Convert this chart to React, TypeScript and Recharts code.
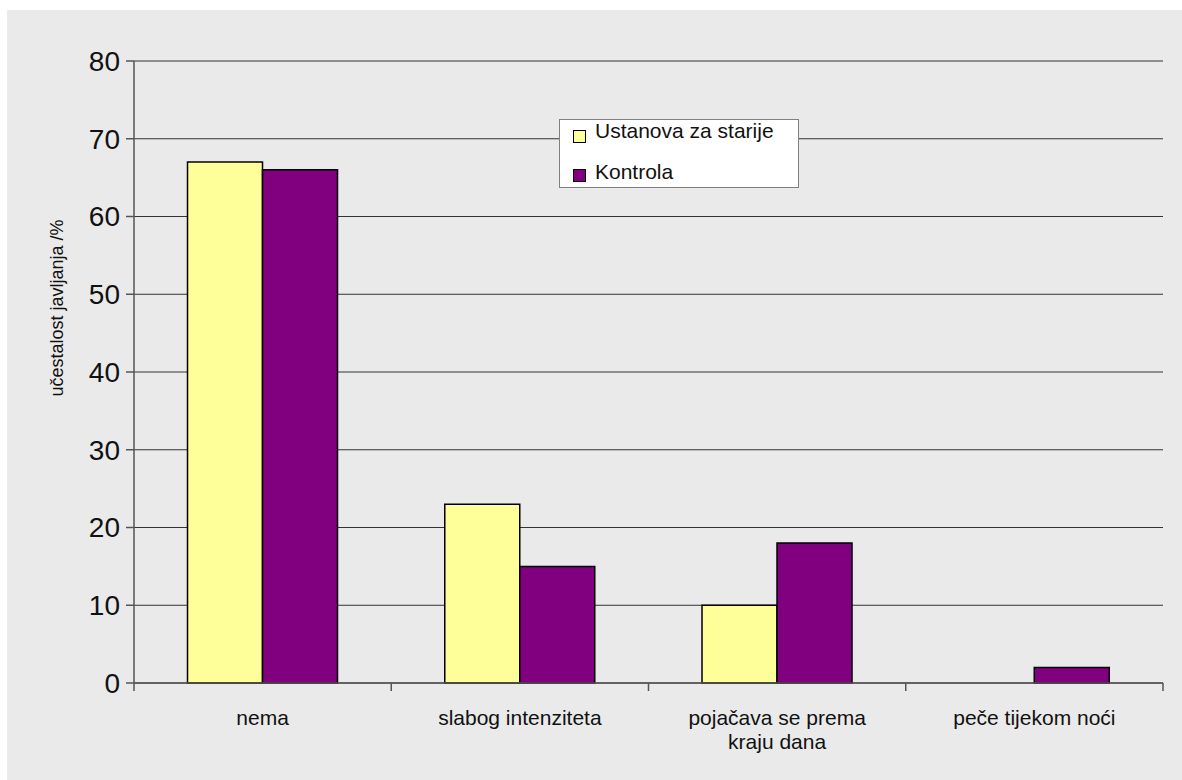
import { BarChart, Bar, XAxis, YAxis, CartesianGrid, Legend } from 'recharts';

const CATEGORIES = ['nema', 'slabog intenziteta', 'pojačava se prema\nkraju dana', 'peče tijekom noći'];
const USTANOVA = [67, 23, 10, 0];
const KONTROLA = [66, 15, 18, 2];
const Y_TICKS = [0, 10, 20, 30, 40, 50, 60, 70, 80];

const SERIES = [
  { key: 'ustanova', name: 'Ustanova za starije', color: '#FFFF99' },
  { key: 'kontrola', name: 'Kontrola', color: '#800080' },
];

const data = CATEGORIES.map((c, i) => ({ name: c, ustanova: USTANOVA[i], kontrola: KONTROLA[i] }));

const FONT = '"Liberation Sans", Arial, sans-serif';
const W = 1175;
const H = 770;
const MARGIN = { top: 51, right: 19, left: 0, bottom: 37 };
const Y_WIDTH = 127;
const PLOT_W = W - MARGIN.left - MARGIN.right - Y_WIDTH;

const CategoryTick = (props: any) => {
  const { x, y, payload, index } = props;
  const half = payload?.offset ?? PLOT_W / CATEGORIES.length / 2;
  const axisY = y - 8;
  const lines = String(payload.value).split('\n');
  return (
    <g>
      <line x1={x - half} x2={x - half} y1={axisY} y2={axisY + 8} stroke="#555" strokeWidth={1.5} />
      {index === CATEGORIES.length - 1 && (
        <line x1={x + half} x2={x + half} y1={axisY} y2={axisY + 8} stroke="#555" strokeWidth={1.5} />
      )}
      <text x={x} y={axisY + 42} textAnchor="middle" fontSize={21} fontFamily={FONT} fill="#111">
        {lines.map((l, i) => (
          <tspan key={i} x={x} dy={i === 0 ? 0 : 24}>
            {l}
          </tspan>
        ))}
      </text>
    </g>
  );
};

const LegendBox = () => (
  <svg width={240} height={69} style={{ display: 'block', overflow: 'visible' }}>
    <rect x={0.5} y={0.5} width={239} height={68} fill="#fff" stroke="#808080" strokeWidth={1} />
    {SERIES.map((s, i) => (
      <g key={s.key}>
        <rect x={14.5} y={11.5 + i * 39} width={12} height={12} fill={s.color} stroke="#000" strokeWidth={1} />
        <text x={36} y={19 + i * 41} fontSize={21} fontFamily={FONT} fill="#111">
          {s.name}
        </text>
      </g>
    ))}
  </svg>
);

const YLabel = (props: any) => {
  const vb = props.viewBox || {};
  const cx = 50;
  const cy = vb.y + vb.height / 2 - 64;
  return (
    <text
      x={cx}
      y={cy}
      transform={`rotate(-90, ${cx}, ${cy})`}
      textAnchor="middle"
      dominantBaseline="central"
      fontSize={18}
      fontFamily={FONT}
      fill="#111"
    >
      učestalost javljanja /%
    </text>
  );
};

export default function App() {
  return (
    <div style={{ position: 'absolute', left: 7, top: 10, width: W, height: H, background: '#eaeaea' }}>
      <BarChart width={W} height={H} data={data} margin={MARGIN} barGap={0} barCategoryGap="20.8%">
        <CartesianGrid vertical={false} stroke="#333" strokeWidth={1} />
        <XAxis
          dataKey="name"
          height={60}
          interval={0}
          tickSize={8}
          tickMargin={0}
          tickLine={false}
          axisLine={{ stroke: '#555', strokeWidth: 1.5 }}
          tick={<CategoryTick />}
        />
        <YAxis
          width={Y_WIDTH}
          domain={[0, 80]}
          ticks={Y_TICKS}
          interval={0}
          tickSize={8}
          tickMargin={6}
          axisLine={{ stroke: '#555', strokeWidth: 1.5 }}
          tickLine={{ stroke: '#555', strokeWidth: 1.5 }}
          tick={{ fill: '#111', fontSize: 28, fontFamily: FONT }}
          label={{ content: <YLabel /> }}
        />
        <YAxis
          yAxisId="right"
          orientation="right"
          width={0}
          tick={false}
          tickLine={false}
          axisLine={{ stroke: '#808080', strokeWidth: 2 }}
        />
        <Legend
          content={<LegendBox />}
          wrapperStyle={{ position: 'absolute', left: 552, top: 109, width: 240, height: 0, overflow: 'visible' }}
        />
        {SERIES.map((s) => (
          <Bar
            key={s.key}
            dataKey={s.key}
            name={s.name}
            fill={s.color}
            stroke="#000"
            strokeWidth={1.5}
            isAnimationActive={false}
          />
        ))}
      </BarChart>
    </div>
  );
}
